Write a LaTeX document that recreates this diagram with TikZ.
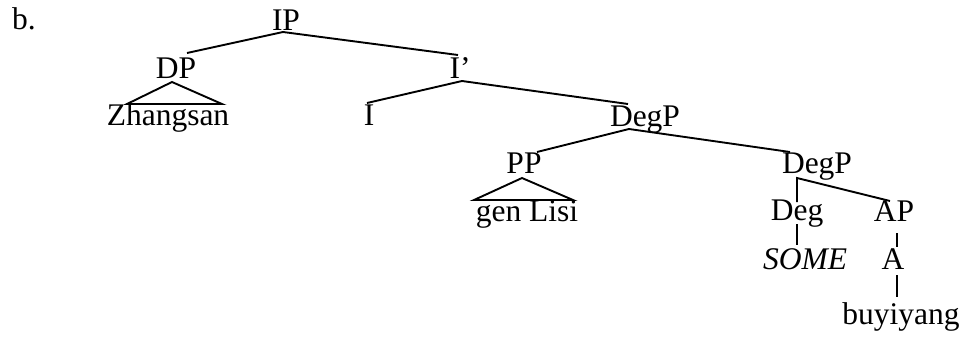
\documentclass[tikz,border=0pt]{standalone}
\usepackage{fontspec}
\setmainfont{Liberation Serif}
\usetikzlibrary{calc}
\begin{document}
\begin{tikzpicture}[x=1pt,y=-1pt,
  lbl/.style={inner sep=0pt, anchor=base, font=\fontsize{31.5}{36}\selectfont},
  edge/.style={line width=1.9pt, line join=miter}]
\useasboundingbox (0,0) rectangle (965,340);
% labels
\node[lbl, anchor=base west] (b) at (12,29) {b.};
\node[lbl] (IP) at (286,30) {IP};
\node[lbl] (DP) at (176,78) {DP};
\node[lbl] (Ib) at (460,78) {I’};
\node[lbl] (Zh) at (168,125) {Zhangsan};
\node[lbl] (I) at (369,125) {I};
\node[lbl] (DegP) at (645,126) {DegP};
\node[lbl] (PP) at (524,173) {PP};
\node[lbl] (DegPb) at (817,173) {DegP};
\node[lbl] (gen) at (527,221) {gen Lisi};
\node[lbl] (Deg) at (797,220) {Deg};
\node[lbl] (AP) at (894,221) {AP};
\node[lbl] (SOME) at (805,269) {\itshape SOME};
\node[lbl] (A) at (893,269) {A};
\node[lbl] (buy) at (901,324) {buyiyang};
% branches
\draw[edge] ($(DP.base)+(11,-25)$) -- ($(IP.base)+(-3,2)$) -- ($(Ib.base)+(-2,-23)$);
\draw[edge] ($(DP.base)+(-4,4)$) -- ($(Zh.base)+(-41,-21)$) -- ($(Zh.base)+(54,-21)$) -- cycle;
\draw[edge] ($(I.base)+(-2,-22)$) -- ($(Ib.base)+(2,3)$) -- ($(DegP.base)+(-17,-22)$);
\draw[edge] ($(PP.base)+(13,-21)$) -- ($(DegP.base)+(-16,3)$) -- ($(DegPb.base)+(-27,-21)$);
\draw[edge] ($(PP.base)+(-2,5)$) -- ($(gen.base)+(-53,-21)$) -- ($(gen.base)+(46,-21)$) -- cycle;
\draw[edge] ($(Deg.base)+(0,-18)$) -- ($(DegPb.base)+(-20,5)$) -- ($(AP.base)+(-4,-20)$);
\draw[edge] ($(Deg.base)+(0,4)$) -- ($(SOME.base)+(-8,-24)$);
\draw[edge] ($(AP.base)+(3,12)$) -- ($(A.base)+(4,-22)$);
\draw[edge] ($(A.base)+(4,6)$) -- ($(buy.base)+(-4,-27)$);
\end{tikzpicture}
\end{document}
